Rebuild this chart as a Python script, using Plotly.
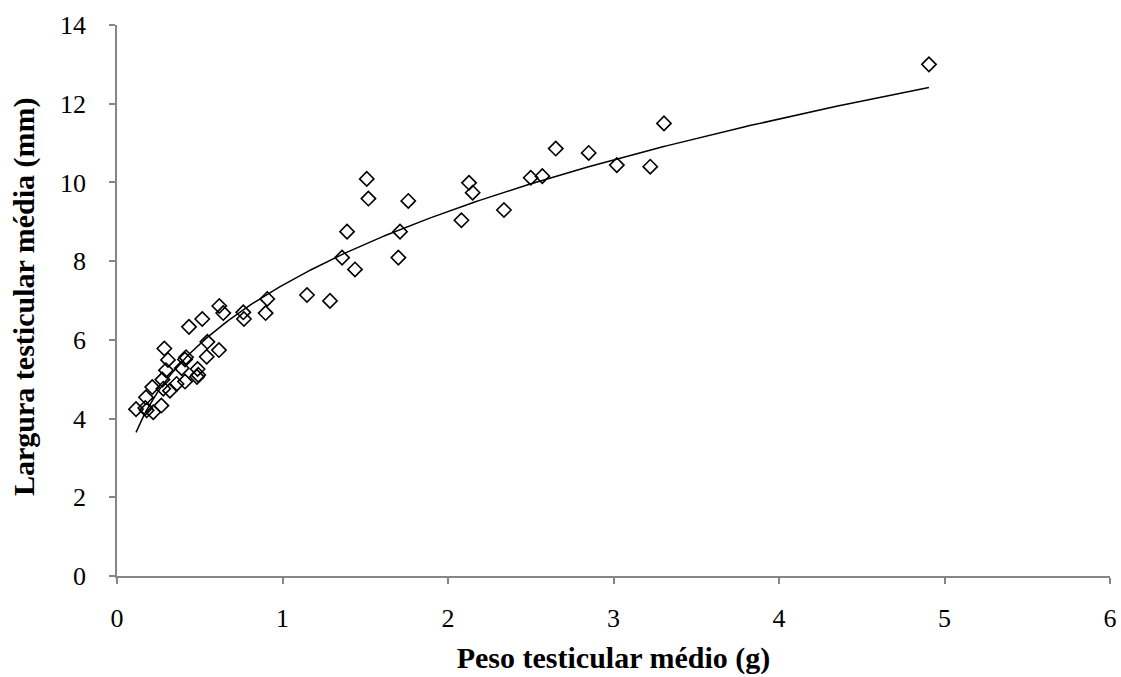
import numpy as np
import plotly.graph_objects as go

# Peso testicular médio (g)
peso = [4.906, 3.305, 2.651, 2.850, 3.020, 3.222, 2.500, 2.570, 2.338,
        1.509, 2.127, 2.149, 1.519, 1.760, 2.081, 1.390, 1.710, 1.360, 1.700,
        1.438, 1.148, 1.287, 0.908, 0.898,
        0.618, 0.642, 0.515, 0.435, 0.763, 0.767, 0.546, 0.616, 0.542, 0.286,
        0.308, 0.417, 0.411, 0.391, 0.296, 0.487, 0.491, 0.483, 0.274, 0.213,
        0.280, 0.320, 0.360, 0.411, 0.175, 0.115, 0.171, 0.179, 0.219, 0.268]

# Largura testicular média (mm)
largura = [13.00, 11.50, 10.86, 10.75, 10.44, 10.40, 10.12, 10.16, 9.30,
           10.09, 9.99, 9.74, 9.59, 9.53, 9.04, 8.75, 8.75, 8.09, 8.09,
           7.79, 7.14, 6.99, 7.04, 6.68,
           6.86, 6.68, 6.53, 6.33, 6.70, 6.53, 5.95, 5.74, 5.57, 5.78,
           5.49, 5.56, 5.50, 5.28, 5.23, 5.26, 5.11, 5.06, 4.99, 4.80,
           4.76, 4.71, 4.88, 4.94, 4.54, 4.24, 4.27, 4.21, 4.16, 4.33]

x_ticks = [0, 1, 2, 3, 4, 5, 6]
y_ticks = [0, 2, 4, 6, 8, 10, 12, 14]

# Power trendline y = a * x^b, least squares in log-log space
xs = np.array(peso)
ys = np.array(largura)
b, ln_a = np.polyfit(np.log(xs), np.log(ys), 1)
a = np.exp(ln_a)
x_fit = np.linspace(xs.min(), xs.max(), 300)
y_fit = a * x_fit ** b

font_family = "Liberation Serif"
axis_color = "#868686"
tick_font = dict(family=font_family, size=26, color="black")
title_font = dict(family=font_family, size=30, color="black")

W, H = 1121, 677
M_L, M_R, M_T, M_B = 117, 11, 25, 101

fig = go.Figure()
fig.add_trace(go.Scatter(
    x=x_fit, y=y_fit, mode="lines",
    line=dict(color="black", width=1.5),
    hoverinfo="skip", showlegend=False,
))
fig.add_trace(go.Scatter(
    x=peso, y=largura, mode="markers",
    marker=dict(symbol="diamond-open", size=11, color="black",
                line=dict(color="black", width=1.6)),
    showlegend=False,
))

fig.update_layout(
    width=W, height=H,
    margin=dict(l=M_L, r=M_R, t=M_T, b=M_B, autoexpand=False),
    paper_bgcolor="white", plot_bgcolor="white",
    font=dict(family=font_family, size=26, color="black"),
)
fig.update_xaxes(
    range=[0, 6], tickvals=x_ticks, ticktext=[str(v) for v in x_ticks],
    showgrid=False, zeroline=False, automargin=False,
    showline=True, linecolor=axis_color, linewidth=1.5,
    ticks="outside", ticklen=6, tickcolor=axis_color, tickwidth=1.5,
    ticklabelstandoff=12,
    tickfont=tick_font,
    title=dict(text="<b>Peso testicular médio (g)</b>",
               font=title_font, standoff=15),
)
fig.update_yaxes(
    range=[0, 14], tickvals=y_ticks, ticktext=[str(v) for v in y_ticks],
    showgrid=False, zeroline=False, automargin=False,
    showline=True, linecolor=axis_color, linewidth=1.5,
    ticks="outside", ticklen=6, tickcolor=axis_color, tickwidth=1.5,
    ticklabelstandoff=18,
    tickfont=tick_font,
)

# Vertical axis title beside the tick labels
plot_h = H - M_T - M_B
fig.add_annotation(
    text="<b>Largura testicular média (mm)</b>",
    font=title_font, textangle=-90, showarrow=False,
    xref="paper", yref="paper",
    x=(24 - M_L) / (W - M_L - M_R), y=(H - M_B - 297) / plot_h,
    xanchor="center", yanchor="middle",
)

fig.write_html("out.html")
